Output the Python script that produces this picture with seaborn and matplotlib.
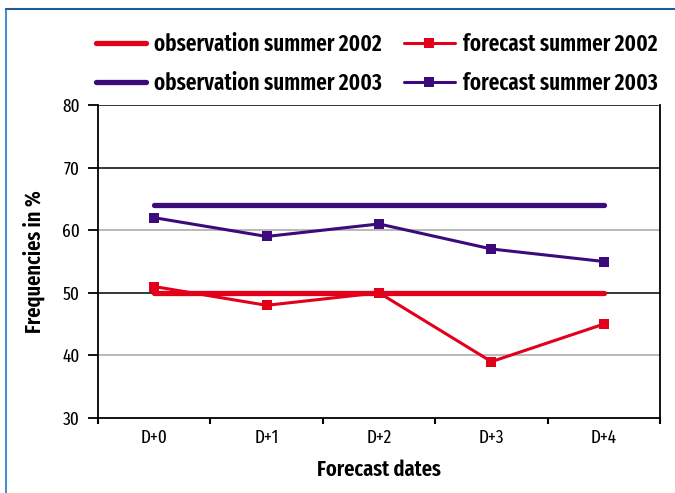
import matplotlib
matplotlib.use("Agg")
import matplotlib.pyplot as plt
from matplotlib.lines import Line2D
from matplotlib.ticker import FixedLocator
import seaborn as sns
import pandas as pd

# Data
dates = ["D+0", "D+1", "D+2", "D+3", "D+4"]
obs_2002 = [50, 50, 50, 50, 50]
obs_2003 = [64, 64, 64, 64, 64]
fc_2002 = [51, 48, 50, 39, 45]
fc_2003 = [62, 59, 61, 57, 55]
y_ticks = [30, 40, 50, 60, 70, 80]

RED = "#E2001A"
PURPLE = "#3D0A7E"

sns.set_theme(style="white")
plt.rcParams["font.family"] = ["Fira Sans Extra Condensed", "DejaVu Sans"]
for key in ["text.color", "axes.labelcolor", "xtick.color", "ytick.color"]:
    plt.rcParams[key] = "black"

fig = plt.figure(figsize=(6.75, 4.93), dpi=100)
ax = fig.add_axes([98 / 675, 1 - 418 / 493, 562 / 675, 313 / 493])

x = list(range(len(dates)))
df = pd.DataFrame({"x": x, "obs02": obs_2002, "obs03": obs_2003,
                   "fc02": fc_2002, "fc03": fc_2003})

sns.lineplot(data=df, x="x", y="fc02", ax=ax, color=RED, lw=2.2,
             marker="s", markersize=6.8, markeredgewidth=0, zorder=4,
             label="forecast summer 2002")
sns.lineplot(data=df, x="x", y="fc03", ax=ax, color=PURPLE, lw=2.2,
             marker="s", markersize=6.8, markeredgewidth=0, zorder=4,
             label="forecast summer 2003")
sns.lineplot(data=df, x="x", y="obs02", ax=ax, color=RED, lw=3.8,
             zorder=3, label="observation summer 2002")
sns.lineplot(data=df, x="x", y="obs03", ax=ax, color=PURPLE, lw=3.8,
             zorder=3, label="observation summer 2003")

ax.set_xlim(-0.5, 4.5)
ax.set_ylim(30, 80)

# Horizontal gridlines: alternating black / gray as in the printed figure
grid_colors = {80: "black", 70: "black", 60: "#A6A6A6", 50: "black", 40: "#A6A6A6"}
for yv, c in grid_colors.items():
    ax.axhline(yv, color=c, lw=1.1, zorder=1)

ax.spines["top"].set_visible(False)
for side in ["left", "bottom", "right"]:
    ax.spines[side].set_visible(True)
    ax.spines[side].set_color("black")
    ax.spines[side].set_linewidth(1.3)

ax.set_yticks(y_ticks)
ax.tick_params(axis="y", which="major", direction="out", length=7.2, width=1.3,
               labelsize=13.5, pad=6, left=True)
ax.set_xticks(x)
ax.set_xticklabels(dates)
ax.tick_params(axis="x", which="major", length=0, labelsize=13.5, pad=8)
ax.xaxis.set_minor_locator(FixedLocator([v - 0.5 for v in range(len(dates) + 1)]))
ax.tick_params(axis="x", which="minor", direction="out", length=4.5, width=1.5,
               bottom=True)

ax.set_xlabel("Forecast dates", fontsize=16, fontweight="semibold", labelpad=9)
ax.set_ylabel("Frequencies in %", fontsize=16, fontweight="semibold", labelpad=12)

handles, labels = ax.get_legend_handles_labels()
order = [2, 3, 0, 1]
ax.legend([handles[i] for i in order], [labels[i] for i in order],
          ncol=2, loc="upper left", bbox_to_anchor=(96 / 675, 1 - 33 / 493),
          bbox_transform=fig.transFigure, frameon=False, borderpad=0,
          borderaxespad=0, prop={"size": 16.5, "weight": "semibold"},
          handlelength=2.2, columnspacing=0.95, labelspacing=0.68,
          handletextpad=0.35)

# Outer frame of the figure panel
fig.add_artist(Line2D([6 / 675, 6 / 675], [0, 1 - 9 / 493], transform=fig.transFigure,
                      color="#4A90D0", lw=1.5))
fig.add_artist(Line2D([6 / 675, 1], [1 - 9 / 493, 1 - 9 / 493], transform=fig.transFigure,
                      color="#1F5A9A", lw=1.5))

fig.savefig("out.png", dpi=100)
